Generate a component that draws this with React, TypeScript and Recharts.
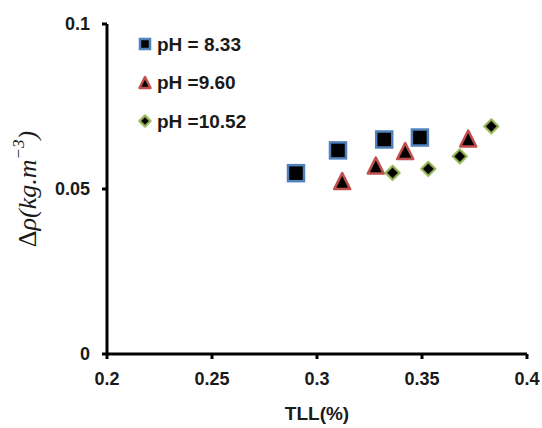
import { Customized, Label, Scatter, ScatterChart, XAxis, YAxis } from "recharts";

// TLL (%) vs density difference
const ph833 = [
  { tll: 0.29, drho: 0.0548 },
  { tll: 0.31, drho: 0.0617 },
  { tll: 0.332, drho: 0.065 },
  { tll: 0.349, drho: 0.0656 },
];
const ph960 = [
  { tll: 0.312, drho: 0.0524 },
  { tll: 0.328, drho: 0.0571 },
  { tll: 0.342, drho: 0.0615 },
  { tll: 0.372, drho: 0.0653 },
];
const ph1052 = [
  { tll: 0.336, drho: 0.0549 },
  { tll: 0.353, drho: 0.0561 },
  { tll: 0.368, drho: 0.0599 },
  { tll: 0.383, drho: 0.069 },
];

const xTicks = [0.2, 0.25, 0.3, 0.35, 0.4];
const yTicks = [0, 0.05, 0.1];
const seriesNames = ["pH = 8.33", "pH =9.60", "pH =10.52"];

const BLUE = "#4f81bd";
const RED = "#c0504d";
const GREEN = "#9bbb59";
const FONT = "'Liberation Sans', Arial, sans-serif";

function squareMark(cx: number, cy: number, s: number) {
  return (
    <rect
      x={cx - s / 2}
      y={cy - s / 2}
      width={s}
      height={s}
      fill="#000"
      stroke={BLUE}
      strokeWidth={2.5}
    />
  );
}

function triangleMark(cx: number, cy: number, s: number) {
  const h = s / 2;
  return (
    <polygon
      points={`${cx},${cy - h} ${cx + h},${cy + h} ${cx - h},${cy + h}`}
      fill="#000"
      stroke={RED}
      strokeWidth={2.5}
      strokeLinejoin="round"
    />
  );
}

function diamondMark(cx: number, cy: number, s: number) {
  const h = s / 2;
  return (
    <polygon
      points={`${cx},${cy - h} ${cx + h},${cy} ${cx},${cy + h} ${cx - h},${cy}`}
      fill="#000"
      stroke={GREEN}
      strokeWidth={2.5}
      strokeOpacity={0.85}
      strokeLinejoin="round"
    />
  );
}

const marks = [squareMark, triangleMark, diamondMark];

// legend sits inside the plot, top left
function LegendBox() {
  const x0 = 145;
  const y0 = 44;
  const step = 38.5;
  return (
    <g>
      {seriesNames.map((name, i) => (
        <g key={name}>
          {marks[i](x0, y0 + i * step, i === 0 ? 10 : 11)}
          <text
            x={x0 + 12}
            y={y0 + i * step}
            dominantBaseline="central"
            fontFamily={FONT}
            fontWeight="bold"
            fontSize={19}
            fill="#1a1a1a"
          >
            {name}
          </text>
        </g>
      ))}
    </g>
  );
}

function YTitle({ viewBox }: any) {
  const cx = 30;
  const cy = viewBox.y + viewBox.height / 2;
  return (
    <text
      x={cx}
      y={cy}
      transform={`rotate(-90, ${cx}, ${cy})`}
      textAnchor="middle"
      dominantBaseline="middle"
      fontFamily="'Liberation Serif', 'DejaVu Serif', serif"
      fontStyle="italic"
      fontSize={26}
      fill="#1a1a1a"
    >
      <tspan fontStyle="normal">Δ</tspan>ρ(kg.m
      <tspan dy={-10} fontSize={17}>−3</tspan>
      <tspan dy={10}>)</tspan>
    </text>
  );
}

function XTitle({ viewBox }: any) {
  return (
    <text
      x={viewBox.x + viewBox.width / 2}
      y={415}
      textAnchor="middle"
      dominantBaseline="middle"
      fontFamily={FONT}
      fontWeight="bold"
      fontSize={19}
      fill="#1a1a1a"
    >
      TLL(%)
    </text>
  );
}

const tickStyle = { fill: "#1a1a1a", fontSize: 18, fontWeight: "bold", fontFamily: FONT };
const axisLine = { stroke: "#000", strokeWidth: 3 };

export default function App() {
  return (
    <div style={{ position: "absolute", left: 0, top: 0, background: "#fff" }}>
      <ScatterChart width={542} height={428} margin={{ top: 24, right: 15, bottom: 0, left: 0 }}>
        <XAxis
          type="number"
          dataKey="tll"
          domain={[0.2, 0.4]}
          ticks={xTicks}
          tickFormatter={(v) => String(v)}
          height={74}
          tick={tickStyle}
          tickSize={5}
          tickMargin={13}
          axisLine={axisLine}
          tickLine={axisLine}
          allowDataOverflow
        >
          <Label content={XTitle} />
        </XAxis>
        <YAxis
          type="number"
          dataKey="drho"
          domain={[0, 0.1]}
          ticks={yTicks}
          tickFormatter={(v) => String(v)}
          width={107}
          tick={tickStyle}
          tickSize={5}
          tickMargin={12}
          axisLine={axisLine}
          tickLine={axisLine}
          allowDataOverflow
        >
          <Label content={YTitle} />
        </YAxis>
        <Scatter
          name={seriesNames[0]}
          data={ph833}
          isAnimationActive={false}
          shape={(p: any) => squareMark(p.cx, p.cy, 16)}
        />
        <Scatter
          name={seriesNames[1]}
          data={ph960}
          isAnimationActive={false}
          shape={(p: any) => triangleMark(p.cx, p.cy, 16)}
        />
        <Scatter
          name={seriesNames[2]}
          data={ph1052}
          isAnimationActive={false}
          shape={(p: any) => diamondMark(p.cx, p.cy, 14)}
        />
        <Customized component={LegendBox} />
      </ScatterChart>
    </div>
  );
}
